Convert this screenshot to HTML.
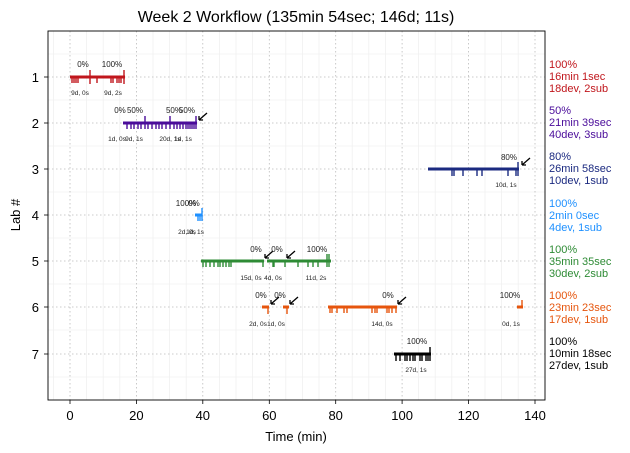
<!DOCTYPE html>
<html><head><meta charset="utf-8"><style>body{margin:0;background:#fff}svg{display:block;font-family:"Liberation Sans","DejaVu Sans",sans-serif}</style></head><body>
<svg width="630" height="453" viewBox="0 0 630 453">
<rect width="630" height="453" fill="#fff"/>
<g stroke="#f0f0f0" stroke-width="0.8">
<line x1="86.6" y1="31" x2="86.6" y2="400"/><line x1="103.2" y1="31" x2="103.2" y2="400"/><line x1="119.8" y1="31" x2="119.8" y2="400"/>
<line x1="153" y1="31" x2="153" y2="400"/><line x1="169.6" y1="31" x2="169.6" y2="400"/><line x1="186.2" y1="31" x2="186.2" y2="400"/>
<line x1="219.4" y1="31" x2="219.4" y2="400"/><line x1="236" y1="31" x2="236" y2="400"/><line x1="252.6" y1="31" x2="252.6" y2="400"/>
<line x1="285.8" y1="31" x2="285.8" y2="400"/><line x1="302.4" y1="31" x2="302.4" y2="400"/><line x1="319" y1="31" x2="319" y2="400"/>
<line x1="352.2" y1="31" x2="352.2" y2="400"/><line x1="368.8" y1="31" x2="368.8" y2="400"/><line x1="385.4" y1="31" x2="385.4" y2="400"/>
<line x1="418.6" y1="31" x2="418.6" y2="400"/><line x1="435.2" y1="31" x2="435.2" y2="400"/><line x1="451.8" y1="31" x2="451.8" y2="400"/>
<line x1="485" y1="31" x2="485" y2="400"/><line x1="501.6" y1="31" x2="501.6" y2="400"/><line x1="518.2" y1="31" x2="518.2" y2="400"/>
<line x1="53.4" y1="31" x2="53.4" y2="400"/>
<line x1="48" y1="100" x2="545" y2="100"/><line x1="48" y1="146" x2="545" y2="146"/><line x1="48" y1="192" x2="545" y2="192"/><line x1="48" y1="238" x2="545" y2="238"/><line x1="48" y1="284" x2="545" y2="284"/><line x1="48" y1="330" x2="545" y2="330"/><line x1="48" y1="377" x2="545" y2="377"/><line x1="48" y1="54" x2="545" y2="54"/>
</g>
<g stroke="#bbb" stroke-width="0.8" stroke-dasharray="1.5,2.5">
<line x1="70" y1="31" x2="70" y2="400"/><line x1="136.4" y1="31" x2="136.4" y2="400"/><line x1="202.8" y1="31" x2="202.8" y2="400"/><line x1="269.3" y1="31" x2="269.3" y2="400"/><line x1="335.7" y1="31" x2="335.7" y2="400"/><line x1="402.1" y1="31" x2="402.1" y2="400"/><line x1="468.5" y1="31" x2="468.5" y2="400"/><line x1="535" y1="31" x2="535" y2="400"/>
<line x1="48" y1="77" x2="545" y2="77"/><line x1="48" y1="123" x2="545" y2="123"/><line x1="48" y1="169" x2="545" y2="169"/><line x1="48" y1="215" x2="545" y2="215"/><line x1="48" y1="261" x2="545" y2="261"/><line x1="48" y1="307" x2="545" y2="307"/><line x1="48" y1="354" x2="545" y2="354"/>
</g>
<rect x="48" y="31" width="497" height="369" fill="none" stroke="#000" stroke-width="0.9"/>
<g stroke="#000" stroke-width="0.8">
<line x1="70" y1="400" x2="70" y2="404"/><line x1="136.4" y1="400" x2="136.4" y2="404"/><line x1="202.8" y1="400" x2="202.8" y2="404"/><line x1="269.3" y1="400" x2="269.3" y2="404"/><line x1="335.7" y1="400" x2="335.7" y2="404"/><line x1="402.1" y1="400" x2="402.1" y2="404"/><line x1="468.5" y1="400" x2="468.5" y2="404"/><line x1="535" y1="400" x2="535" y2="404"/>
<line x1="44" y1="77" x2="48" y2="77"/><line x1="44" y1="123" x2="48" y2="123"/><line x1="44" y1="169" x2="48" y2="169"/><line x1="44" y1="215" x2="48" y2="215"/><line x1="44" y1="261" x2="48" y2="261"/><line x1="44" y1="307" x2="48" y2="307"/><line x1="44" y1="354" x2="48" y2="354"/>
</g>
<g font-size="13" text-anchor="middle" fill="#000">
<text x="70" y="420">0</text><text x="136.4" y="420">20</text><text x="202.8" y="420">40</text><text x="269.3" y="420">60</text><text x="335.7" y="420">80</text><text x="402.1" y="420">100</text><text x="468.5" y="420">120</text><text x="535" y="420">140</text>
<text x="296" y="441">Time (min)</text>
<text x="296" y="22" font-size="16">Week 2 Workflow (135min 54sec; 146d; 11s)</text>
<text x="20" y="215" transform="rotate(-90 20 215)">Lab #</text>
</g>
<g font-size="13" text-anchor="end"><text x="39" y="82">1</text><text x="39" y="128">2</text><text x="39" y="174">3</text><text x="39" y="220">4</text><text x="39" y="266">5</text><text x="39" y="312">6</text><text x="39" y="359">7</text></g>
<!-- Lab1 -->
<g stroke="#c0161c" stroke-width="1.4">
<line x1="70" y1="77" x2="125" y2="77" stroke-width="3"/>
<path d="M72 77v6M74 77v6M76 77v6M78 77v6M90 70v14M97 77v6M111 77v6M113 77v6M117 77v6M119 77v6M121 77v6M124 70v14"/>
</g>
<!-- Lab2 -->
<g stroke="#4a0c9a" stroke-width="1.4">
<line x1="123" y1="123" x2="197" y2="123" stroke-width="3"/>
<path d="M127 123v6M131 123v6M134 123v6M138 123v6M141 123v6M145 116v13M148 123v6M152 123v6M156 123v6M159 123v6M162 123v6M166 123v6M170 116v13M174 123v6M177 123v6M180 123v6M183 123v6M186 123v6M188 123v6M190 123v6M192 123v6M194 123v6M196 116v13"/>
</g>
<!-- Lab3 -->
<g stroke="#1b2a80" stroke-width="1.4">
<line x1="428" y1="169" x2="519" y2="169" stroke-width="3"/>
<path d="M452 169v7M454 169v7M463 169v7M477 169v7M482 169v7M508 169v7M516 169v7M518 162v14"/>
</g>
<!-- Lab4 -->
<g stroke="#1e90ff" stroke-width="1.4">
<line x1="195" y1="215" x2="202" y2="215" stroke-width="3"/>
<path d="M198 215v6M200 215v6M202 208v13"/>
</g>
<!-- Lab5 -->
<g stroke="#2e8b35" stroke-width="1.4">
<line x1="201" y1="261" x2="264" y2="261" stroke-width="3"/>
<line x1="267" y1="261" x2="331" y2="261" stroke-width="3"/>
<path d="M203 261v6M206 261v6M210 261v6M214 261v6M218 261v6M220 261v6M223 261v6M226 261v6M229 261v6M231 261v6M263 261v6M273 261v6M274 261v6M285 261v6M298 261v6M308 261v6M313 261v6M318 261v6M327 254v13M329 254v13"/>
</g>
<!-- Lab6 -->
<g stroke="#e6550d" stroke-width="1.4">
<line x1="262" y1="307" x2="269" y2="307" stroke-width="3"/>
<line x1="283" y1="307" x2="289" y2="307" stroke-width="3"/>
<line x1="328" y1="307" x2="397" y2="307" stroke-width="3"/>
<line x1="517" y1="307" x2="523" y2="307" stroke-width="3"/>
<path d="M268 307v7M287 307v7M330 307v6M332 307v6M337 307v6M344 307v6M347 307v6M372 307v6M375 307v6M377 307v6M387 307v6M389 307v6M392 307v6M396 307v6M522 300v7"/>
</g>
<!-- Lab7 -->
<g stroke="#000" stroke-width="1.4">
<line x1="394" y1="354" x2="431" y2="354" stroke-width="3"/>
<path d="M396 354v7M400 354v7M405 354v7M407 354v7M410 354v7M413 354v7M415 354v7M420 354v7M422 354v7M426 354v7M428 354v7M430 347v14"/>
</g>
<!-- arrows -->
<g stroke="#000" stroke-width="1.3" fill="none">
<path d="M207 113l-8 7M199 120h4M199 120v-4"/>
<path d="M530 158l-8 7M522 165h4M522 165v-4"/>
<path d="M273 251l-8 7M265 258h4M265 258v-4"/>
<path d="M295 251l-8 7M287 258h4M287 258v-4"/>
<path d="M279 297l-8 7M271 304h4M271 304v-4"/>
<path d="M298 297l-8 7M290 304h4M290 304v-4"/>
<path d="M406 297l-8 7M398 304h4M398 304v-4"/>
</g>
<!-- percent labels -->
<g font-size="8" text-anchor="middle" fill="#222">
<text x="83" y="67">0%</text><text x="112" y="67">100%</text>
<text x="120" y="113">0%</text><text x="135" y="113">50%</text><text x="174" y="113">50%</text><text x="187" y="113">50%</text>
<text x="509" y="160">80%</text>
<text x="186" y="206">100%</text><text x="194" y="206">0%</text>
<text x="256" y="252">0%</text><text x="277" y="252">0%</text><text x="317" y="252">100%</text>
<text x="261" y="298">0%</text><text x="280" y="298">0%</text><text x="388" y="298">0%</text><text x="510" y="298">100%</text>
<text x="417" y="344">100%</text>
</g>
<g font-size="6.5" text-anchor="middle" fill="#222">
<text x="80" y="95">9d, 0s</text><text x="113" y="95">9d, 2s</text>
<text x="117" y="141">1d, 0s</text><text x="134" y="141">9d, 1s</text><text x="170" y="141">20d, 1s</text><text x="183" y="141">1d, 1s</text>
<text x="506" y="187">10d, 1s</text>
<text x="187" y="234">2d, 0s</text><text x="195" y="234">1d, 1s</text>
<text x="251" y="280">15d, 0s</text><text x="273" y="280">4d, 0s</text><text x="316" y="280">11d, 2s</text>
<text x="258" y="326">2d, 0s</text><text x="276" y="326">1d, 0s</text><text x="382" y="326">14d, 0s</text><text x="511" y="326">0d, 1s</text>
<text x="416" y="372">27d, 1s</text>
</g>
<g font-size="11">
<g fill="#c0161c"><text x="549" y="68">100%</text><text x="549" y="80">16min 1sec</text><text x="549" y="92">18dev, 2sub</text></g>
<g fill="#4a0c9a"><text x="549" y="114">50%</text><text x="549" y="126">21min 39sec</text><text x="549" y="138">40dev, 3sub</text></g>
<g fill="#1b2a80"><text x="549" y="160">80%</text><text x="549" y="172">26min 58sec</text><text x="549" y="184">10dev, 1sub</text></g>
<g fill="#1e90ff"><text x="549" y="207">100%</text><text x="549" y="219">2min 0sec</text><text x="549" y="231">4dev, 1sub</text></g>
<g fill="#2e8b35"><text x="549" y="253">100%</text><text x="549" y="265">35min 35sec</text><text x="549" y="277">30dev, 2sub</text></g>
<g fill="#e6550d"><text x="549" y="299">100%</text><text x="549" y="311">23min 23sec</text><text x="549" y="323">17dev, 1sub</text></g>
<g fill="#000"><text x="549" y="345">100%</text><text x="549" y="357">10min 18sec</text><text x="549" y="369">27dev, 1sub</text></g>
</g>
</svg>
</body></html>
